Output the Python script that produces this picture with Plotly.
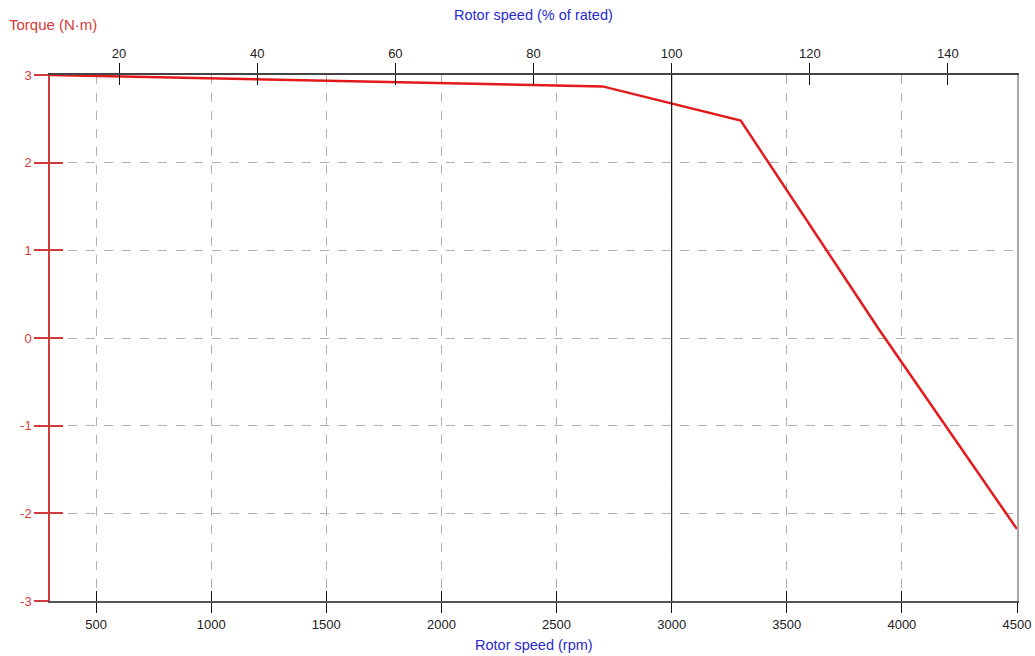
import plotly.graph_objects as go

# Data
speed_rpm = [300, 2700, 3300, 3900, 4500]
torque_nm = [3.0, 2.87, 2.48, 0.1, -2.18]
rated_rpm = 3000

x_ticks = [500, 1000, 1500, 2000, 2500, 3000, 3500, 4000, 4500]
y_ticks = [-3, -2, -1, 0, 1, 2, 3]
y_tick_text = ["-3", "-2", "-1", "0", "1", "2", "3"]
pct_ticks = [20, 40, 60, 80, 100, 120, 140]

x_range = [300, 4500]
y_range = [-3, 3]
pct_range = [x_range[0] / rated_rpm * 100, x_range[1] / rated_rpm * 100]

FONT = "Liberation Sans, Arial, sans-serif"
RED = "#e31a1c"
LABEL_RED = "#d83a3a"
AXIS_RED = "#d03a3a"
BLUE = "#2a2ad0"

fig = go.Figure()
fig.add_trace(go.Scatter(x=speed_rpm, y=torque_nm, mode="lines",
                         line=dict(color=RED, width=2.5), showlegend=False,
                         xaxis="x", yaxis="y"))

# invisible traces to activate the overlay (decoration) axes
for xa, ya, xr in [("x3", "y", x_range), ("x2", "y", pct_range), ("x4", "y", pct_range),
                   ("x", "y2", x_range), ("x", "y3", x_range)]:
    fig.add_trace(go.Scatter(x=xr, y=y_range, mode="lines", line=dict(width=0, color="rgba(0,0,0,0)"),
                             hoverinfo="skip", showlegend=False, xaxis=xa, yaxis=ya))

common_grid = dict(showgrid=True, gridcolor="#b0b0b0", griddash="dash", gridwidth=1, zeroline=False)

fig.update_layout(
    width=1035, height=656,
    margin=dict(l=50, r=18, t=75, b=55),
    paper_bgcolor="white", plot_bgcolor="white",
    font=dict(family=FONT, size=13, color="#222"),
    showlegend=False,
    xaxis=dict(range=x_range, tickvals=x_ticks, ticks="outside", ticklen=10, tickwidth=1,
               tickcolor="#111", showline=True, linecolor="#555", linewidth=2, automargin=False,
               tickfont=dict(size=13, color="#222"), **common_grid),
    xaxis3=dict(range=x_range, overlaying="x", side="bottom", tickvals=x_ticks, ticks="inside",
                ticklen=10, tickwidth=1, tickcolor="#111", showticklabels=False, automargin=False,
                showgrid=False, zeroline=False, showline=False),
    xaxis2=dict(range=pct_range, overlaying="x", side="top", tickvals=pct_ticks, ticks="outside",
                ticklen=10, tickwidth=1, tickcolor="#111", showline=True, linecolor="#444",
                linewidth=1.5, tickfont=dict(size=13, color="#222"), showgrid=False, zeroline=False,
                automargin=False),
    xaxis4=dict(range=pct_range, overlaying="x", side="top", tickvals=pct_ticks, ticks="inside",
                ticklen=10, tickwidth=1, tickcolor="#111", showticklabels=False, automargin=False,
                showgrid=False, zeroline=False, showline=False),
    yaxis=dict(range=y_range, tickvals=y_ticks, ticktext=y_tick_text, ticks="outside", ticklen=14,
               tickwidth=1.5, tickcolor=AXIS_RED, showline=True, linecolor=AXIS_RED, linewidth=1.5,
               automargin=False, tickfont=dict(size=13, color=LABEL_RED), **common_grid),
    yaxis3=dict(range=y_range, overlaying="y", side="left", tickvals=y_ticks, ticks="inside",
                ticklen=13, tickwidth=1.5, tickcolor=AXIS_RED, showticklabels=False, automargin=False,
                showgrid=False, zeroline=False, showline=False),
    yaxis2=dict(range=y_range, overlaying="y", side="right", showticklabels=False, ticks="",
                automargin=False, showgrid=False, zeroline=False, showline=True,
                linecolor="#aaaaaa", linewidth=1.5),
)

# rated speed marker
fig.add_shape(type="line", xref="x", yref="paper", x0=rated_rpm, x1=rated_rpm, y0=0, y1=1,
              line=dict(color="#111", width=1.2), layer="above")

fig.add_annotation(text="Torque (N·m)", xref="paper", yref="paper", x=-43/967, y=1 + 50/526,
                   xanchor="left", yanchor="middle", showarrow=False,
                   font=dict(family=FONT, size=15, color=LABEL_RED))
fig.add_annotation(text="Rotor speed (% of rated)", xref="paper", yref="paper", x=0.5, y=1 + 60/526,
                   xanchor="center", yanchor="middle", showarrow=False,
                   font=dict(family=FONT, size=14.5, color=BLUE))
fig.add_annotation(text="Rotor speed (rpm)", xref="paper", yref="paper", x=0.5, y=-44/526,
                   xanchor="center", yanchor="middle", showarrow=False,
                   font=dict(family=FONT, size=14.5, color=BLUE))

fig.write_html("out.html")
